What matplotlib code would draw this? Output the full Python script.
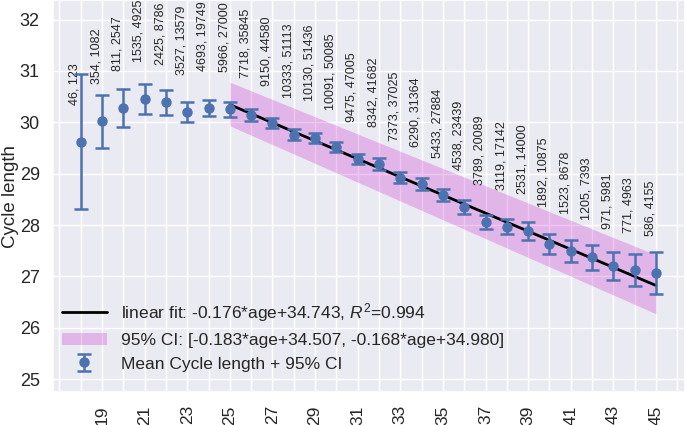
import matplotlib
matplotlib.use("Agg")
import matplotlib.pyplot as plt
import seaborn as sns
import numpy as np
from matplotlib.ticker import MultipleLocator

ages = list(range(18, 46))
means = [29.62, 30.02, 30.27, 30.45, 30.39, 30.20, 30.28, 30.25, 30.14, 29.99,
         29.76, 29.69, 29.52, 29.29, 29.19, 28.92, 28.80, 28.59, 28.35, 28.06,
         27.97, 27.88, 27.63, 27.49, 27.37, 27.20, 27.13, 27.06]
ci_half = [1.31, 0.52, 0.37, 0.29, 0.24, 0.19, 0.16, 0.14, 0.12, 0.10,
           0.10, 0.10, 0.10, 0.10, 0.11, 0.11, 0.11, 0.12, 0.13, 0.14,
           0.15, 0.17, 0.19, 0.21, 0.24, 0.27, 0.31, 0.41]
counts = ["46, 123", "354, 1082", "811, 2547", "1535, 4925", "2425, 8786",
          "3527, 13579", "4693, 19749", "5966, 27000", "7718, 35845",
          "9150, 44580", "10333, 51113", "10130, 51436", "10091, 50085",
          "9475, 47005", "8342, 41682", "7373, 37025", "6290, 31364",
          "5433, 27884", "4538, 23439", "3789, 20089", "3119, 17142",
          "2531, 14000", "1892, 10875", "1523, 8678", "1205, 7393",
          "971, 5981", "771, 4963", "586, 4155"]
fit_slope, fit_icpt = -0.176, 34.743
lo_slope, lo_icpt = -0.183, 34.507
hi_slope, hi_icpt = -0.168, 34.980
fit_start, fit_end = 25, 45
xtick_vals = list(range(19, 46, 2))
ytick_vals = list(range(25, 33))

sns.set_theme(style="darkgrid")
plt.rcParams['font.family'] = ['Liberation Sans', 'DejaVu Sans']
plt.rcParams['mathtext.fontset'] = 'custom'
plt.rcParams['mathtext.rm'] = 'Liberation Sans'
plt.rcParams['mathtext.it'] = 'Liberation Sans:italic'

fig = plt.figure(figsize=(6.85, 4.25), dpi=100)
ax = fig.add_axes([53/685, 33/425, 1 - 53/685, 1 - 33/425])

fx = np.array([fit_start, fit_end], dtype=float)
ax.fill_between(fx, lo_slope*fx + lo_icpt, hi_slope*fx + hi_icpt,
                color=(0.78, 0.1, 0.8), alpha=0.25, linewidth=0,
                label='95% CI: [-0.183*age+34.507, -0.168*age+34.980]')
ax.plot(fx, fit_slope*fx + fit_icpt, color='black', lw=2, zorder=3,
        label='linear fit: -0.176*age+34.743, $R^2$=0.994')
ax.errorbar(ages, means, yerr=ci_half, fmt='o', color='#4C72B0', ms=6.5,
            capsize=5, elinewidth=1.8, capthick=1.8, zorder=4,
            label='Mean Cycle length + 95% CI')

for a, m, c in zip(ages, means, counts):
    ax.text(a - 0.27, m + 0.72, c, rotation=90, ha='center', va='bottom',
            fontsize=9, color='#262626')

ax.set_xlim(16.70, 46.36)
ax.set_ylim(24.75, 32.38)
ax.set_xticks(xtick_vals)
ax.set_xticklabels([str(v) for v in xtick_vals], rotation=90, fontsize=12.5)
ax.xaxis.set_minor_locator(MultipleLocator(1))
ax.grid(which='minor', axis='x', color='white', linewidth=1)
ax.set_yticks(ytick_vals)
ax.set_yticklabels([str(v) for v in ytick_vals], fontsize=13)
ax.set_ylabel('Cycle length', fontsize=13.5)
ax.yaxis.set_label_coords(-53/632 + 0.003, 0.5)
ax.yaxis.label.set_va('top')

h, l = ax.get_legend_handles_labels()
order = [1, 0, 2]
ax.legend([h[i] for i in order], [l[i] for i in order], loc='lower left',
          frameon=False, fontsize=12.5, handlelength=2.6, handletextpad=0.8,
          borderaxespad=0.1, bbox_to_anchor=(0.0, 0.03))

fig.savefig('out.png', dpi=100)
